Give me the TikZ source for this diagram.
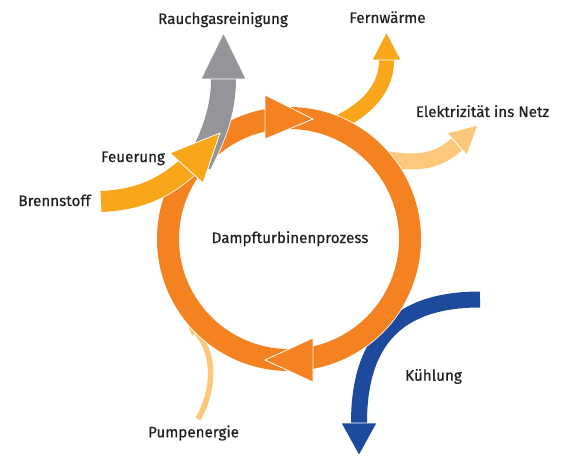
\documentclass[tikz,border=0pt]{standalone}
\usepackage{fontspec}
\setmainfont{Fira Sans}
\newfontfamily\lblfont{Fira Sans}[FakeBold=0.5]
\definecolor{ringc}{HTML}{F58220}
\definecolor{yel}{HTML}{F9A61A}
\definecolor{lightc}{HTML}{FEC87C}
\definecolor{grayc}{HTML}{939598}
\definecolor{kuehl}{HTML}{1D4A9C}
\definecolor{txt}{HTML}{231F20}
\tikzset{
  band/.style 2 args={draw=white, line width=0.8pt, double=#1, double distance=#2},
  head/.style={fill=#1, draw=white, line width=0.8pt, line join=miter},
  lbl/.style={anchor=base, inner sep=0pt, text=txt, font=\lblfont\fontsize{15.2}{18}\selectfont}
}
\begin{document}
\begin{tikzpicture}[x=1pt,y=1pt]
\useasboundingbox[fill=white] (0,0) rectangle (564,456);
% Kuehlung
\draw[band={kuehl}{16pt}] (480,156.5) .. controls (398,156.5) and (359,116) .. (359,33);
\filldraw[head=kuehl] (341,33) -- (377,33) -- (359,0.5) -- cycle;
% Pumpenergie
\draw[band={lightc}{5.5pt}] (198,37) .. controls (214,65) and (216,100) .. (197,123);
\filldraw[head=lightc] (202,127) -- (187,132) -- (192,119) -- cycle;
% Fernwaerme
\draw[band={yel}{15pt}] (338,333) .. controls (368,348) and (386.5,368) .. (386.5,396);
\filldraw[head=yel] (372,396) -- (401,396) -- (386.5,424) -- cycle;
% Elektrizitaet
\draw[band={lightc}{16pt}] (386,297) .. controls (420,291) and (440,296) .. (457,312);
\filldraw[head=lightc] (447,323) -- (478,331) -- (467,301) -- cycle;
% ring
\draw[draw=white, line width=0.8pt, double=ringc, double distance=22pt] (289,217) circle (121pt);
% Rauchgas
\draw[band={grayc}{25pt}] (199,292) .. controls (213,320) and (223.5,345) .. (223.5,377);
\filldraw[head=grayc] (201,377) -- (246,377) -- (223.5,423) -- cycle;
% Brennstoff / Feuerung
\draw[band={yel}{21pt}] (101,254.5) .. controls (135,256) and (160,265) .. (186.5,288);
\filldraw[head=yel] (170,303) -- (220,323) -- (203,273) -- cycle;
% ring arrowheads
\filldraw[head=ringc] (265,361) -- (313,337) -- (265,317) -- cycle;
\filldraw[head=ringc] (313,118) -- (265,96) -- (313,74) -- cycle;
% labels
\node[lbl] (rauch) at (223,432) {Rauchgasreinigung};
\node[lbl] (fern) at (387.5,433) {Fernwärme};
\node[lbl] (elek) at (482.5,339) {Elektrizität ins Netz};
\node[lbl] (feuer) at (133,294) {Feuerung};
\node[lbl] (brenn) at (54.5,250) {Brennstoff};
\node[lbl] (dampf) at (290,213) {Dampfturbinenprozess};
\node[lbl] (pumpe) at (193.5,18.7) {Pumpenergie};
\node[lbl] (kuehl) at (433.5,75.3) {Kühlung};
\end{tikzpicture}
\end{document}
